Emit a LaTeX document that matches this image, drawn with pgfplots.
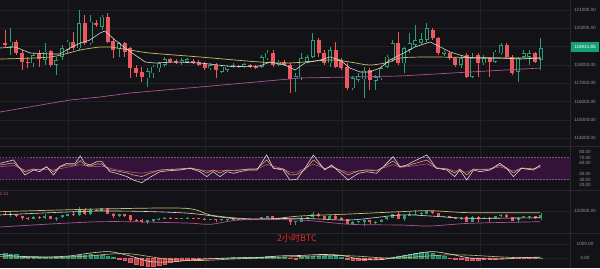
\documentclass[border=0pt]{standalone}
\usepackage{pgfplots}
\pgfplotsset{compat=1.18}
\usepackage{pgfplotstable}
\usepackage{fontspec}
\setmainfont{Liberation Sans}
\newfontfamily\cjk{Noto Sans CJK SC}
\definecolor{bg}{RGB}{19,19,23}
\definecolor{gridc}{RGB}{32,32,37}
\definecolor{sepc}{RGB}{40,40,46}
\definecolor{up}{RGB}{44,158,118}
\definecolor{dn}{RGB}{236,88,94}
\definecolor{maw}{RGB}{214,214,214}
\definecolor{may}{RGB}{200,190,105}
\definecolor{mam}{RGB}{178,80,150}
\definecolor{tickc}{RGB}{150,150,150}
\definecolor{band}{RGB}{52,18,58}
\definecolor{bandline}{RGB}{120,90,130}
\definecolor{rsiy}{RGB}{222,170,85}
\definecolor{tagc}{RGB}{22,160,120}
\definecolor{cjkred}{RGB}{226,45,40}

\pgfplotstableread{
t o h l c
0 119180 119907 118978 119087
1 118994 119999 118541 119268
2 119268 119360 118541 118634
3 118634 118814 117721 118175
4 118175 118448 117814 118087
5 118087 118634 117902 118541
6 118579 118814 117902 118306
7 118268 119180 117994 118721
8 118776 118814 117902 117994
9 117994 118448 117448 118268
10 118448 119087 118268 118907
11 118814 119360 118634 119268
12 119268 119814 118814 118907
13 118907 121000 118814 120273
14 120273 120726 119087 119180
15 119180 120726 119087 120360
16 120306 120453 120087 120180
17 120087 120726 119907 120634
18 120634 120819 119180 119268
19 119322 119453 118361 118814
20 118852 119268 118448 119180
21 119180 119268 118448 118721
22 118907 118994 117268 117814
23 117814 117994 117355 117541
24 117628 117902 117082 117322
25 117268 117814 116809 117667
26 117541 117994 117268 117902
27 117814 118175 117628 118087
28 117994 118415 117902 118306
29 118306 118377 118104 118175
30 118229 118322 118049 118120
31 118158 118361 117994 118268
32 118175 118377 118104 118306
33 118229 118322 118049 118120
34 118175 118268 117940 117994
35 118087 118158 117721 117814
36 117814 118104 117721 117994
37 117994 118087 117268 117721
38 117628 117994 117557 117902
39 117721 117994 117612 117902
40 117902 118104 117831 117994
41 117940 117994 117831 117869
42 117902 118104 117831 118033
43 117994 118049 117831 117902
44 117956 118011 117776 117847
45 117902 118541 117831 118415
46 118361 118814 118268 118667
47 118667 118814 117902 117994
48 117994 118268 117940 118175
49 118175 118268 117940 117994
50 117994 118087 116448 117229
51 117268 117541 116536 117393
52 117322 118634 117175 118361
53 118175 118541 118104 118415
54 118448 119727 118361 119360
55 119360 119453 118448 118634
56 118667 118814 117994 118087
57 118087 118994 117902 118814
58 118814 119268 117814 117902
59 118268 118377 117721 117814
60 117902 118087 116628 116721
61 116721 117393 116628 117268
62 117175 117541 117082 117393
63 117213 117902 116175 117683
64 117721 117814 116628 117175
65 117137 117448 116628 117322
66 117268 117902 117175 117814
67 117902 118541 117831 118448
68 118268 119360 118175 119180
69 119180 119814 117994 118087
70 118087 118994 117541 118907
71 118814 119727 118634 119180
72 119087 120180 118994 119360
73 119213 119727 119087 119399
74 119360 120273 119268 119999
75 119907 119999 119360 119453
76 119453 119541 118541 118634
77 118595 118814 118486 118721
78 118634 118721 118268 118361
79 118361 118448 117902 117994
80 117994 118541 117814 118361
81 118541 118634 117268 117355
82 117355 118634 117268 118448
83 118541 118634 117355 118087
84 118087 118541 117994 118361
85 118361 118448 117355 118175
86 118175 118814 118087 118721
87 118634 119180 118541 119087
88 119087 119213 118361 118448
89 118448 118541 117448 117541
90 117628 118448 117082 118361
91 118448 118814 118361 118634
92 118448 118814 117994 118634
93 118634 118721 118087 118175
94 118268 119453 117721 118932
}\candles

\pgfplotstableread{
t v
0 330
1 300
2 250
3 150
4 90
5 60
6 40
7 30
8 20
9 30
10 60
11 100
12 120
13 200
14 220
15 250
16 230
17 200
18 120
19 50
20 -60
21 -150
22 -300
23 -420
24 -550
25 -620
26 -600
27 -520
28 -420
29 -330
30 -250
31 -180
32 -130
33 -90
34 -60
35 -40
36 -20
37 -10
38 10
39 20
40 30
41 40
42 50
43 40
44 30
45 80
46 120
47 100
48 90
49 60
50 -20
51 -60
52 40
53 80
54 150
55 160
56 130
57 110
58 120
59 60
60 -80
61 -140
62 -150
63 -140
64 -120
65 -100
66 -70
67 -30
68 80
69 150
70 220
71 280
72 330
73 380
74 380
75 330
76 200
77 120
78 -30
79 -80
80 -110
81 -150
82 -140
83 -130
84 -120
85 -100
86 -70
87 -30
88 0
89 -20
90 -40
91 -30
92 -20
93 -10
94 20
}\macdhist

\newcommand{\tickfont}{\fontsize{4.6}{5}\selectfont}
\pgfplotsset{
  panel/.style={scale only axis, width=570pt, xmin=-0.877, xmax=99.123,
    anchor=south west, axis line style={draw=none}, major tick length=0pt,
    xtick={11.05,35.1,59.1,83.3}, xticklabels={}, xmajorgrids,
    grid style={gridc, line width=0.4pt},
    scaled y ticks=false, scaled x ticks=false,
    yticklabel pos=right,
    yticklabel style={font=\tickfont, text=tickc, anchor=center, xshift=15pt},
    clip=true},
  wick/.style={draw=none, mark=none, forget plot,
    error bars/y dir=plus, error bars/y explicit, error bars/error mark=none,
    error bars/error bar style={draw=#1, solid, line width=0.7pt}},
  body/.style 2 args={draw=none, mark=none, forget plot,
    error bars/y dir=plus, error bars/y explicit, error bars/error mark=none,
    error bars/error bar style={draw=#1, solid, line width=#2}},
}

\begin{document}
\begin{tikzpicture}
\fill[bg] (0,0) rectangle (600pt,268pt);

% ---------- main price panel ----------
\begin{axis}[panel, at={(0pt,122pt)}, height=146pt,
  ymin=113569, ymax=121546, ymajorgrids,
  ytick={114000,115000,116000,117000,118000,119000,120000,121000},
  yticklabels={114000.00,115000.00,116000.00,117000.00,118000.00,119000.00,120000.00,121000.00}]
% wicks
\addplot[wick=up, restrict expr to domain={\thisrow{c}-\thisrow{o}}{0:1e7}]
  table[x=t, y=l, y error expr={\thisrow{h}-\thisrow{l}}] {\candles};
\addplot[wick=dn, restrict expr to domain={\thisrow{o}-\thisrow{c}}{0.5:1e7}]
  table[x=t, y=l, y error expr={\thisrow{h}-\thisrow{l}}] {\candles};
% bodies
\addplot[body={up}{4pt}, restrict expr to domain={\thisrow{c}-\thisrow{o}}{0:1e7}]
  table[x=t, y=o, y error expr={max(\thisrow{c}-\thisrow{o},40)}] {\candles};
\addplot[body={bg}{2.6pt}, restrict expr to domain={\thisrow{c}-\thisrow{o}}{110:1e7}]
  table[x=t, y expr={\thisrow{o}+38}, y error expr={\thisrow{c}-\thisrow{o}-76}] {\candles};
\addplot[body={dn}{4pt}, restrict expr to domain={\thisrow{o}-\thisrow{c}}{0.5:1e7}]
  table[x=t, y=c, y error expr={max(\thisrow{o}-\thisrow{c},40)}] {\candles};
% moving averages
\addplot[mam, line width=0.7pt, mark=none] coordinates {(-0.88,115426) (11.4,116082) (16.7,116246) (21.9,116464) (34.2,116792) (51.8,117284) (69.3,117393) (81.6,117612) (94,117830)};
\addplot[may, line width=0.7pt, mark=none, smooth] coordinates {(-0.88,118322) (7.9,118432) (13.2,118814) (16.7,118978) (18.4,118978) (21.9,118814) (25.4,118650) (34.2,118432) (44.7,118158) (50,118104) (57,118268) (60.5,118158) (64,117994) (67.5,118158) (69.3,118377) (74.6,118432) (86.8,118377) (94,118377)};
\addplot[maw, line width=0.6pt, mark=none] coordinates {(-0.88,118923) (1.8,118978) (4.4,118650) (7.9,118595) (9.6,118595) (11.4,118923) (13.2,119197) (14.9,119360) (16.7,119743) (17.5,119852) (19.3,119360) (21.1,118923) (22.8,118541) (24.6,118158) (26.3,118104) (29.8,118158) (34.2,118104) (40,117902) (44.7,117940) (46.5,118158) (49.1,117994) (50.9,117721) (52.6,118104) (55.3,118268) (57,118432) (58.8,118268) (60.5,117831) (62.3,117612) (64,117612) (65.8,117831) (67.5,118268) (69.3,118541) (71.9,118978) (74.6,119251) (78.1,118705) (79.8,118541) (81.6,118377) (86.8,118377) (90.4,118322) (94,118377)};
\end{axis}

% ---------- RSI panel ----------
\begin{axis}[panel, at={(0pt,78pt)}, height=44pt,
  ymin=10.91, ymax=90.91,
  ytick={20,30,40,60,70,80},
  yticklabels={20.00,30.00,40.00,60.00,70.00,80.00}]
\addplot[draw=none, fill=band, forget plot] coordinates {(-0.877,30) (99.123,30) (99.123,70) (-0.877,70)} -- cycle;
\addplot[bandline, dashed, dash pattern=on 1.5pt off 1.5pt, line width=0.4pt] coordinates {(-0.877,70) (99.123,70)};
\addplot[bandline, dashed, dash pattern=on 1.5pt off 1.5pt, line width=0.4pt] coordinates {(-0.877,30) (99.123,30)};
\addplot[mam, line width=0.6pt, mark=none] coordinates {(-0.9,53.3) (1.5,55.4) (3.5,47) (6.1,48.5) (8.5,47.5) (10.8,52) (13.2,57) (14.9,53) (17.0,54.3) (19.6,47.5) (22.5,43) (24.0,41.5) (27.2,47) (30.7,49) (32.5,50) (35.4,46) (37.7,46) (40.1,47) (44.2,49) (45.9,57.5) (48.8,49.5) (50.0,43) (51.2,43.5) (54.1,58) (56.1,50) (57.3,52.5) (60.2,43) (63.5,47.5) (65.2,47) (68.1,57) (69.3,52) (71.6,54.5) (74.0,58.5) (75.7,51) (77.5,49.5) (78.9,45.5) (81.0,43.5) (82.2,48.5) (85.1,49) (86.8,53) (89.2,45.5) (90.6,50) (92.7,49) (93.9,52)};
\addplot[rsiy, line width=0.6pt, mark=none] coordinates {(-0.9,56.4) (1.5,60.1) (3.5,43.7) (5.0,49.2) (6.1,47.3) (7.3,52.8) (8.5,43.7) (9.6,52.8) (10.8,56.4) (12.3,56.4) (13.2,64.4) (14.0,56.4) (14.9,54.6) (16.1,58.2) (17.0,58.2) (18.4,47.3) (19.6,45.5) (21.4,41.9) (22.5,38.3) (24.0,35.3) (25.4,41.1) (27.2,47.3) (28.9,48.5) (30.7,49.2) (32.5,51) (34.2,47.3) (35.4,41.9) (36.5,47.3) (37.7,41.9) (38.9,47.3) (40.1,45.5) (41.2,47.3) (42.7,49.2) (44.2,49.2) (45.9,65.5) (47.1,51) (48.8,49.2) (50.0,38.3) (51.2,39) (52.6,48) (54.1,65.5) (56.1,49.2) (57.3,54.6) (60.2,38.3) (62.0,45.5) (63.5,47.3) (65.2,45.5) (68.1,63.7) (69.3,52.8) (70.5,54.6) (71.6,58.2) (74.0,65.5) (75.7,51) (77.5,49.2) (78.9,41.9) (79.8,49.2) (81.0,38.3) (82.2,49.2) (83.3,47.3) (85.1,49.2) (86.8,56.4) (88.0,51) (89.2,41.9) (90.6,51) (92.7,49.2) (93.9,54.6)};
\addplot[maw, line width=0.6pt, mark=none] coordinates {(-0.9,59.4) (1.5,65.5) (3.5,38.2) (5.0,47.3) (6.1,44.2) (7.3,53.3) (8.5,38.2) (9.6,53.3) (10.8,59.4) (12.3,59.4) (13.2,72.7) (14.0,59.4) (14.9,56.4) (16.1,62.4) (17.0,62.4) (18.4,44.2) (19.6,41.2) (21.4,35.2) (22.5,29.1) (24.0,24.2) (25.4,33.9) (27.2,44.2) (28.9,46.1) (30.7,47.3) (32.5,50.3) (34.2,44.2) (35.4,35.2) (36.5,44.2) (37.7,35.2) (38.9,44.2) (40.1,41.2) (41.2,44.2) (42.7,47.3) (44.2,47.3) (45.9,74.5) (47.1,50.3) (48.8,47.3) (50.0,29.1) (51.2,30.3) (52.6,50) (54.1,74.5) (56.1,47.3) (57.3,56.4) (60.2,29.1) (62.0,41.2) (63.5,44.2) (65.2,41.2) (68.1,71.5) (69.3,53.3) (70.5,56.4) (71.6,62.4) (74.0,74.5) (75.7,50.3) (77.5,47.3) (78.9,35.2) (79.8,47.3) (81.0,29.1) (82.2,47.3) (83.3,44.2) (85.1,47.3) (86.8,59.4) (88.0,50.3) (89.2,35.2) (90.6,50.3) (92.7,47.3) (93.9,56.4)};
\end{axis}

% ---------- Bollinger panel ----------
\begin{axis}[panel, at={(0pt,35pt)}, height=43pt,
  ymin=114500, ymax=125250, ymajorgrids,
  ytick={120000}, yticklabels={120000.00}]
\addplot[wick=up, restrict expr to domain={\thisrow{c}-\thisrow{o}}{0:1e7}, error bars/error bar style={line width=0.5pt}]
  table[x=t, y=l, y error expr={\thisrow{h}-\thisrow{l}}] {\candles};
\addplot[wick=dn, restrict expr to domain={\thisrow{o}-\thisrow{c}}{0.5:1e7}, error bars/error bar style={line width=0.5pt}]
  table[x=t, y=l, y error expr={\thisrow{h}-\thisrow{l}}] {\candles};
\addplot[body={up}{3pt}, restrict expr to domain={\thisrow{c}-\thisrow{o}}{0:1e7}]
  table[x=t, y=o, y error expr={max(\thisrow{c}-\thisrow{o},150)}] {\candles};
\addplot[body={dn}{3pt}, restrict expr to domain={\thisrow{o}-\thisrow{c}}{0.5:1e7}]
  table[x=t, y=c, y error expr={max(\thisrow{o}-\thisrow{c},150)}] {\candles};
\addplot[may, line width=0.7pt, mark=none, smooth] coordinates {(-0.88,119825) (16.7,120500) (31.6,120675) (36,119000) (41.2,118175) (46.5,118000) (51.8,118750) (60.5,119250) (69.3,119825) (74.6,120075) (81.6,119575) (93.9,119575)};
\addplot[maw, line width=0.6pt, mark=none, smooth] coordinates {(-0.88,119000) (16.7,120000) (31.6,119500) (41.2,118000) (51.8,118175) (60.5,117750) (69.3,119000) (74.6,118750) (81.6,118175) (93.9,118325)};
\addplot[mam, line width=0.7pt, mark=none, smooth] coordinates {(-0.88,116000) (16.7,117325) (31.6,117000) (36,116675) (41.2,117750) (51.8,117750) (60.5,116675) (69.3,116500) (74.6,116250) (81.6,116925) (93.9,117325)};
\end{axis}

% ---------- MACD panel ----------
\begin{axis}[panel, at={(0pt,0pt)}, height=35pt,
  ymin=-714.3, ymax=1785.7, ymajorgrids,
  ytick={0,1000}, yticklabels={0.00,1000.00}]
\addplot[ybar, bar width=3.6pt, bar shift=0pt, draw=up, fill=up, fill opacity=0.75, line width=0.4pt,
  restrict expr to domain={\thisrow{v}}{0:1e7}] table[x=t, y=v] {\macdhist};
\addplot[ybar, bar width=3.6pt, bar shift=0pt, draw=dn, fill=dn, fill opacity=0.75, line width=0.4pt,
  restrict expr to domain={\thisrow{v}}{-1e7:-0.5}] table[x=t, y=v] {\macdhist};
\addplot[may, line width=0.6pt, mark=none, smooth] coordinates {(-0.9,100) (2.6,60) (7.9,50) (11.4,70) (14.9,150) (18.4,280) (21.9,300) (25.4,100) (28.9,-100) (34.2,-180) (39.5,-80) (44.7,0) (48.2,60) (51.8,110) (55.3,150) (58.8,180) (62.3,120) (65.8,20) (69.3,0) (74.6,150) (78.1,230) (81.6,200) (86.8,80) (90.4,20) (93.9,20)};
\addplot[maw, line width=0.6pt, mark=none, smooth] coordinates {(-0.9,250) (2.6,120) (7.9,80) (11.4,150) (14.9,350) (18.4,450) (21.9,150) (25.4,-250) (28.9,-280) (34.2,-100) (39.5,0) (44.7,40) (48.2,150) (51.8,180) (55.3,250) (58.8,200) (62.3,-80) (65.8,-120) (69.3,100) (74.6,450) (78.1,280) (81.6,0) (86.8,-80) (90.4,20) (93.9,60)};
\end{axis}

% separators and labels
\draw[sepc, line width=0.5pt] (0,122pt) -- (600pt,122pt);
\draw[sepc, line width=0.5pt] (0,78pt) -- (600pt,78pt);
\draw[sepc, line width=0.5pt] (0,35pt) -- (600pt,35pt);
\draw[sepc, line width=0.5pt] (570pt,0) -- (570pt,268pt);
\fill[tagc] (571pt,216pt) rectangle (599pt,225.5pt);
\node[font=\tickfont, text=white, inner sep=0pt] at (585pt,220.7pt) {118931.85};
\node[font=\tickfont, text=mam, anchor=west, inner sep=0pt] at (-0.5pt,74.5pt) {2.01};
\node[font=\cjk\fontsize{9}{10}\selectfont, text=cjkred, inner sep=0pt] at (297pt,30pt) {2小时BTC};

\pgfresetboundingbox
\path[use as bounding box] (0,0) rectangle (600pt,268pt);
\end{tikzpicture}
\end{document}
